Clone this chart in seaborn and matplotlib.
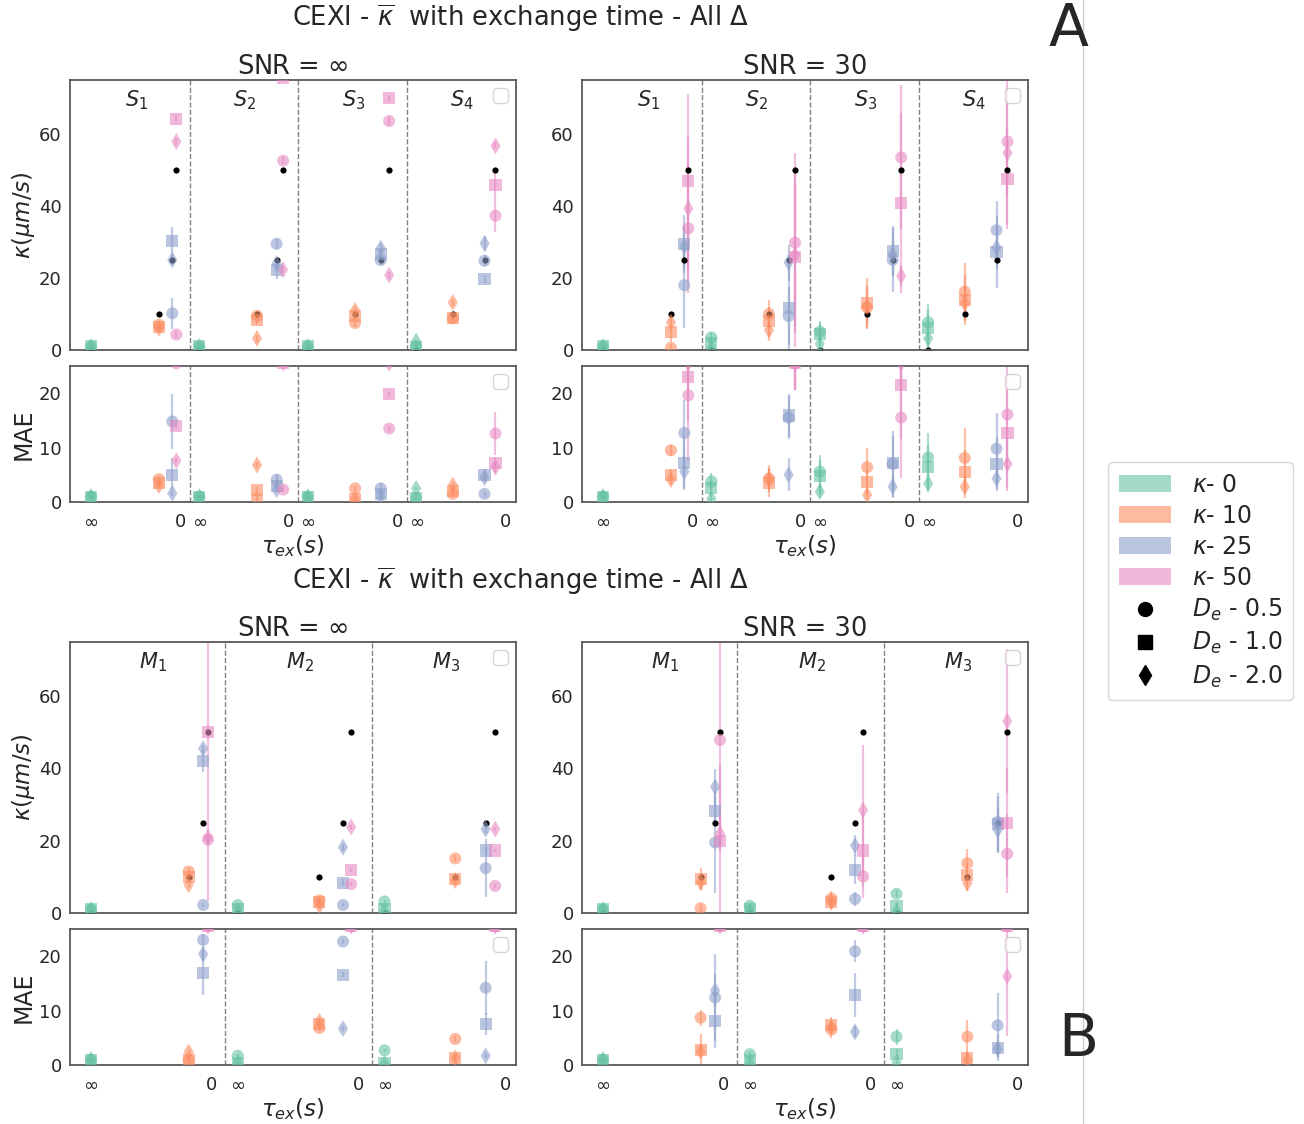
import numpy as np
import pandas as pd
import matplotlib
matplotlib.use("Agg")
import matplotlib.pyplot as plt
import matplotlib.transforms as mtransforms
from matplotlib.lines import Line2D
from matplotlib.patches import Patch
import seaborn as sns

# ---------------------------------------------------------------- data
kappa_levels = [0, 10, 25, 50]
de_levels = [0.5, 1.0, 2.0]
de_markers = {0.5: "o", 1.0: "s", 2.0: "d"}

substrates_S = ["$S_1$", "$S_2$", "$S_3$", "$S_4$"]
substrates_M = ["$M_1$", "$M_2$", "$M_3$"]
snr_titles = [r"SNR = $\infty$", "SNR = 30"]
x_tick_labels = [r"$\infty$", "0"]

# tau_ex position of each kappa level inside a substrate block (0 -> inf, 1 -> 0)
tau_pos_S = [[0, 0.76, 0.91, 0.955],
             [0, 0.645, 0.864, 0.937],
             [0, 0.53, 0.816, 0.911],
             [0, 0.41, 0.765, 0.888]]
tau_pos_M = [[0, 0.807, 0.927, 0.967],
             [0, 0.675, 0.87, 0.937],
             [0, 0.585, 0.836, 0.915]]

# estimated kappa, indexed [substrate][kappa level][De]
kappa_S_inf = [[[1, 1, 1], [7, 6.5, 6], [10.2, 30.3, 25], [4.3, 64.2, 57.9]],
               [[1, 1, 1], [9.5, 8.2, 3.2], [29.5, 22.2, 24], [52.6, 75.5, 22.3]],
               [[1, 1, 1], [7.5, 9.5, 11], [25, 26.8, 28.3], [63.6, 69.9, 20.8]],
               [[1, 0.8, 2.5], [8.8, 9, 13.2], [24.8, 19.7, 29.6], [37.3, 45.8, 56.7]]]
kappa_S_inf_err = [[[0.3, 0.3, 0.3], [1, 1, 1], [4.3, 4, 1.5], [1, 1, 1]],
                   [[0.3, 0.3, 0.3], [1, 1, 1], [1.5, 2.5, 1.5], [1, 1, 1]],
                   [[0.3, 0.3, 0.3], [1, 1, 1], [1.5, 1.5, 1.5], [1, 1, 1]],
                   [[0.3, 0.3, 0.3], [1, 1, 1], [1.5, 1, 2], [4.5, 4, 1]]]
mae_S_inf = [[[1, 1, 1], [4.2, 3.5, 3], [14.8, 5, 1.6], [25.5, 14, 7.6]],
             [[1, 1, 1], [0.7, 2.2, 6.8], [4.1, 3, 2.3], [2.3, 25.5, 25.5]],
             [[1, 1, 1], [2.5, 0.6, 0.6], [2.5, 1.5, 1], [13.5, 19.8, 25.5]],
             [[0.7, 0.7, 2.5], [1.5, 2, 3.1], [1.5, 5, 4.5], [12.6, 7.2, 6.4]]]
mae_S_inf_err = [[[0.3, 0.3, 0.3], [0.5, 0.5, 0.5], [5, 3, 0.5], [0.5, 0.5, 0.5]],
                 [[0.3, 0.3, 0.3], [0.5, 0.5, 0.5], [1, 1, 0.5], [0.5, 0.5, 0.5]],
                 [[0.3, 0.3, 0.3], [0.5, 0.5, 0.5], [1, 1, 0.5], [0.5, 0.5, 0.5]],
                 [[0.3, 0.3, 0.3], [0.5, 0.5, 0.5], [0.5, 1, 1], [4, 1, 1]]]

kappa_S_30 = [[[1, 1, 1], [0.6, 5.1, 7.7], [18, 29.4, 28.7], [33.8, 47, 39.3]],
              [[3.5, 2, 0.5], [10, 8, 5.5], [9.4, 11.8, 24.3], [29.8, 25.9, 26.5]],
              [[5.1, 4.5, 1.7], [11.8, 13, 12], [25, 27.5, 26.5], [53.5, 40.7, 20.6]],
              [[7.7, 6, 3.2], [16.2, 13.9, 13], [33.3, 27.3, 28.5], [57.9, 47.5, 54.8]]]
kappa_S_30_err = [[[0.5, 0.5, 0.5], [1, 3, 2], [12, 8, 6], [18, 24, 20]],
                  [[1.5, 1.5, 1], [4, 4, 3], [8, 13, 5], [25, 25, 20]],
                  [[3, 3, 2], [6, 7, 5], [9, 7, 6], [20, 25, 3]],
                  [[5, 5, 3], [8, 7, 5], [8, 10, 6], [15, 14, 20]]]
mae_S_30 = [[[1, 1, 1], [9.5, 5, 4.1], [12.7, 7.2, 5.6], [19.6, 22.9, 25.5]],
            [[3.8, 2.6, 0.6], [4.3, 3.5, 4.3], [15.5, 15.9, 5], [25.5, 25.5, 25.5]],
            [[5.6, 4.7, 1.9], [6.4, 3.6, 1.3], [7, 7.2, 2.8], [15.5, 21.5, 25.5]],
            [[8.2, 6.4, 3.4], [8.1, 5.6, 2.8], [9.8, 7, 4.3], [16.1, 12.6, 7]]]
mae_S_30_err = [[[0.3, 0.3, 0.3], [1, 1, 1], [6, 5, 3], [12, 8, 5]],
                [[1.5, 1.5, 1], [2.5, 2.5, 2], [4, 4, 3], [5, 5, 5]],
                [[3, 3, 1], [3.5, 2.5, 1], [6, 5, 2], [11, 10, 5]],
                [[4.5, 4, 1.5], [5.5, 4, 2], [6.5, 5, 2], [10, 10, 5]]]

kappa_M_inf = [[[1, 1, 1], [11.5, 10, 7.8], [2.2, 42, 45.5], [20.3, 50.2, 21]],
               [[2.2, 1, 0.5], [3.5, 3, 2], [2.2, 8.4, 18.2], [8, 11.9, 23.8]],
               [[3.2, 1, 0.5], [15.1, 9.5, 9], [12.4, 17.3, 23.2], [7.5, 17.3, 23.2]]]
kappa_M_inf_err = [[[0.3, 0.3, 0.3], [1, 1, 1], [0.5, 3, 1], [1, 47, 1]],
                   [[0.3, 0.3, 0.3], [1, 1, 1], [0.5, 1, 1], [0.5, 0.5, 0.5]],
                   [[0.3, 0.3, 0.3], [1, 1, 1], [8, 1, 1], [0.5, 0.5, 0.5]]]
mae_M_inf = [[[1, 1, 1], [1, 1, 2.4], [23, 16.9, 20.4], [25.5, 25.5, 25.5]],
             [[1.7, 0.3, 0.3], [6.8, 7.5, 8], [22.7, 16.6, 6.7], [25.5, 25.5, 25.5]],
             [[2.7, 0.3, 0.3], [4.8, 1.3, 1.3], [14.2, 7.6, 1.7], [25.5, 25.5, 25.5]]]
mae_M_inf_err = [[[0.3, 0.3, 0.3], [0.5, 0.5, 0.5], [1, 4, 1.5], [0.5, 0.5, 0.5]],
                 [[0.3, 0.3, 0.3], [0.5, 0.5, 0.5], [0.5, 0.5, 0.5], [0.5, 0.5, 0.5]],
                 [[0.3, 0.3, 0.3], [0.5, 0.5, 0.5], [5, 2, 0.5], [0.5, 0.5, 0.5]]]

kappa_M_30 = [[[1, 1, 1], [1.3, 9.5, 8.5], [19.5, 28.3, 34.9], [47.9, 20, 22]],
              [[2, 1, 0.5], [4, 3, 3], [3.9, 12, 18.7], [10.1, 17.3, 28.5]],
              [[5.3, 2, 0.5], [13.8, 10.6, 8.2], [25.2, 24.5, 23], [16.4, 25, 53.1]]]
kappa_M_30_err = [[[0.5, 0.5, 0.5], [1, 3, 2], [14, 4, 5], [30, 21, 5]],
                  [[0.5, 0.5, 0.5], [2, 2, 2], [2, 4, 3], [6, 10, 18]],
                  [[1, 1, 0.5], [4, 3, 2], [8, 8, 6], [11, 15, 20]]]
mae_M_30 = [[[1, 1, 1], [8.7, 2.7, 2.5], [12.4, 8.1, 13.7], [25.5, 25.5, 25.5]],
            [[2, 1, 0.3], [6.5, 7.4, 7], [20.9, 12.9, 6.1], [25.5, 25.5, 25.5]],
            [[5.2, 2, 0.5], [5.2, 1.2, 1], [7.3, 3.2, 3], [25.5, 25.5, 16.3]]]
mae_M_30_err = [[[0.3, 0.3, 0.3], [1.5, 3, 1], [8, 5, 3], [0.5, 0.5, 0.5]],
                [[0.5, 0.5, 0.3], [1.5, 1.5, 1], [2, 4, 1], [0.5, 0.5, 0.5]],
                [[1.5, 1, 0.3], [3, 1, 0.5], [6, 2.5, 1], [0.5, 0.5, 11]]]

# ---------------------------------------------------------------- style
sns.set_theme(style="white")
plt.rcParams.update({
    "axes.edgecolor": "0.35",
    "axes.linewidth": 1.3,
    "xtick.color": "0.15",
    "ytick.color": "0.15",
    "mathtext.fontset": "dejavusans",
})
plt.rcParams["font.family"] = ["DejaVu Sans"]

palette = dict(zip(kappa_levels, sns.color_palette("Set2", 4)))
BLOCK = 1.213          # spacing between substrate blocks on the tau_ex axis
W, H = 1304, 1124
fig = plt.figure(figsize=(W / 100, H / 100), dpi=100)


def add_axes_px(x0, y0, x1, y1):
    return fig.add_axes([x0 / W, 1 - y1 / H, (x1 - x0) / W, (y1 - y0) / H])


def to_frame(values, errors, tau_pos):
    rows = []
    for k in range(len(values)):
        for i, kap in enumerate(kappa_levels):
            for j, de in enumerate(de_levels):
                rows.append(dict(x=k * BLOCK + tau_pos[k][i], value=values[k][i][j],
                                 err=errors[k][i][j], kappa=kap, De=de))
    return pd.DataFrame(rows)


def draw_panel(ax, values, errors, tau_pos, labels, ylim, yticks, truth):
    n = len(values)
    span = (n - 1) * BLOCK + 1
    upx = span / (446 - 31.5)
    ax.set_xlim(-21 * upx, span + 10.5 * upx)
    ax.set_ylim(*ylim)
    df = to_frame(values, errors, tau_pos)
    ax.vlines(df["x"], df["value"] - df["err"], df["value"] + df["err"],
              colors=[palette[k] for k in df["kappa"]], alpha=0.55, lw=1.6, zorder=1)
    if truth:
        tdf = pd.DataFrame([dict(x=k * BLOCK + tau_pos[k][i], value=kap)
                            for k in range(n) for i, kap in enumerate(kappa_levels)])
        sns.scatterplot(data=tdf, x="x", y="value", color="black", s=20, linewidth=0,
                        legend=False, ax=ax, zorder=2)
    sns.scatterplot(data=df, x="x", y="value", hue="kappa", style="De", palette=palette,
                    markers=de_markers, s=75, alpha=0.6, linewidth=0, legend=False,
                    ax=ax, zorder=3)
    for k in range(n - 1):
        ax.axvline(k * BLOCK + 1.107, ls="--", color="0.5", lw=1.0, zorder=0)
    ticks = []
    for k in range(n):
        ticks += [k * BLOCK, k * BLOCK + 1]
    ax.set_xticks(ticks)
    ax.set_yticks(yticks)
    ax.tick_params(length=0)
    ax.tick_params(axis="y", labelsize=13, pad=6)
    ax.tick_params(axis="x", labelsize=13, pad=8)
    ax.set_xlabel("")
    ax.set_ylabel("")
    if labels is not None:
        trans = mtransforms.blended_transform_factory(ax.transData, ax.transAxes)
        for k, lab in enumerate(labels):
            ax.text(k * BLOCK + 0.51, 0.925, lab, transform=trans, ha="center",
                    va="center", fontsize=15, color="0.15")
    ax.legend(handles=[], labels=[], loc="upper right", fontsize=13,
              frameon=True, borderaxespad=0.45)
    return n


panels = [
    # (values, errors, mae values, mae errors, tau positions, substrate labels, rows, column)
    (kappa_S_inf, kappa_S_inf_err, mae_S_inf, mae_S_inf_err, tau_pos_S, substrates_S, (80, 350, 366, 502), 0),
    (kappa_S_30, kappa_S_30_err, mae_S_30, mae_S_30_err, tau_pos_S, substrates_S, (80, 350, 366, 502), 1),
    (kappa_M_inf, kappa_M_inf_err, mae_M_inf, mae_M_inf_err, tau_pos_M, substrates_M, (642, 913, 929, 1065), 0),
    (kappa_M_30, kappa_M_30_err, mae_M_30, mae_M_30_err, tau_pos_M, substrates_M, (642, 913, 929, 1065), 1),
]
col_x = [(70, 516), (582, 1028)]

for kv, ke, mv, me, tpos, labels, rows, col in panels:
    x0, x1 = col_x[col]
    ax_k = add_axes_px(x0, rows[0], x1, rows[1])
    ax_m = add_axes_px(x0, rows[2], x1, rows[3])
    n = draw_panel(ax_k, kv, ke, tpos, labels, (0, 75), [0, 20, 40, 60], True)
    draw_panel(ax_m, mv, me, tpos, None, (0, 25), [0, 10, 20], False)
    ax_k.set_xticklabels([])
    ax_m.set_xticklabels(x_tick_labels * n)
    ax_k.set_title(snr_titles[col], fontsize=18.5, pad=2, color="0.15")
    ax_m.set_xlabel(r"$\tau_{ex}(s)$", fontsize=16.5, color="0.15")
    ax_m.xaxis.set_label_coords(0.5, -0.228)
    ax_m.xaxis.label.set_va("top")
    if col == 0:
        ax_k.set_ylabel(r"$\kappa(\mu m/s)$", fontsize=16.5, color="0.15")
        ax_k.yaxis.set_label_coords(-0.105, 0.5)
        ax_k.yaxis.label.set_va("center")
        ax_m.set_ylabel("MAE", fontsize=17, color="0.15")
        ax_m.yaxis.set_label_coords(-0.103, 0.5)
        ax_m.yaxis.label.set_va("center")

# block titles and panel letters
fig_title = r"CEXI - $\overline{\kappa}$  with exchange time - All $\Delta$"
for yc in (18, 581):
    fig.text(520 / W, 1 - yc / H, fig_title, ha="center", va="center",
             fontsize=18.5, color="0.15")
fig.text(1068 / W, 1 - 30 / H, "A", ha="center", va="center", fontsize=42)
fig.text(1078 / W, 1 - 1040 / H, "B", ha="center", va="center", fontsize=42)
fig.add_artist(Line2D([1083 / W, 1083 / W], [0, 1], color="0.8", lw=1))

# shared legend
handles = [Patch(facecolor=palette[k], alpha=0.6, edgecolor="none") for k in kappa_levels]
handles += [Line2D([], [], ls="none", marker=de_markers[d], color="black", markersize=10)
            for d in de_levels]
labels = [rf"$\kappa$- {k}" for k in kappa_levels] + [rf"$D_e$ - {d:.1f}" for d in de_levels]
fig.legend(handles, labels, loc="upper left", bbox_to_anchor=(1108 / W, 1 - 462 / H),
           borderaxespad=0, fontsize=17, handlelength=2.2, labelspacing=0.3,
           frameon=True, edgecolor="0.8", borderpad=0.45, handletextpad=0.9)

fig.savefig("out.png", dpi=100)
